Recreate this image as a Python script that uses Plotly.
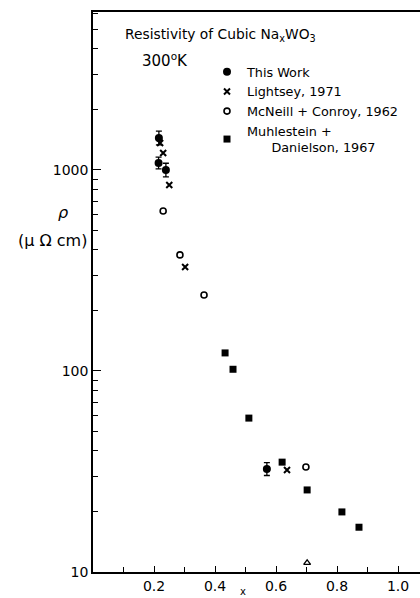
import plotly.graph_objects as go

# ---- data ----
this_work_x = [0.216, 0.215, 0.239, 0.570]
this_work_y = [1442, 1084, 1000, 32.5]
this_work_err_plus = [120, 75, 80, 2.5]
this_work_err_minus = [110, 70, 75, 2.3]

lightsey_x = [0.220, 0.230, 0.250, 0.302, 0.636]
lightsey_y = [1362, 1216, 842, 329, 32.2]

mcneill_x = [0.230, 0.285, 0.364, 0.698]
mcneill_y = [625, 378, 239, 33.3]

muhl_x = [0.433, 0.459, 0.511, 0.620, 0.702, 0.816, 0.872]
muhl_y = [123, 102, 58.3, 35.2, 25.6, 19.9, 16.7]

tri_x = [0.702]
tri_y = [11.1]

x_tickvals = [0.2, 0.4, 0.6, 0.8, 1.0]
x_ticktext = ["0.2", "0.4", "0.6", "0.8", "1.0"]
x_minor = [0.1, 0.3, 0.5, 0.7, 0.9]
y_tickvals = [10, 100, 1000]
y_ticktext = ["10", "100", "1000"]
y_minor = [m * d for d in (10, 100, 1000) for m in range(2, 10)]

FONT = "DejaVu Sans"

fig = go.Figure()
fig.add_trace(go.Scatter(
    x=this_work_x, y=this_work_y, mode="markers", name="This Work",
    marker=dict(symbol="circle", size=8, color="black"),
    error_y=dict(type="data", array=this_work_err_plus, arrayminus=this_work_err_minus,
                 color="black", thickness=1.3, width=3),
))
fig.add_trace(go.Scatter(
    x=lightsey_x, y=lightsey_y, mode="markers", name="Lightsey, 1971",
    marker=dict(symbol="x-thin", size=6, color="black", line=dict(width=2, color="black")),
))
fig.add_trace(go.Scatter(
    x=mcneill_x, y=mcneill_y, mode="markers", name="McNeill + Conroy, 1962",
    marker=dict(symbol="circle-open", size=6, color="black", line=dict(width=1.6)),
))
fig.add_trace(go.Scatter(
    x=muhl_x, y=muhl_y, mode="markers", name="Muhlestein +<br>      Danielson, 1967",
    marker=dict(symbol="square", size=7, color="black"),
))
fig.add_trace(go.Scatter(
    x=tri_x, y=tri_y, mode="markers", showlegend=False,
    marker=dict(symbol="triangle-up-open", size=6, color="black", line=dict(width=1.3)),
))

fig.update_layout(
    width=420, height=598,
    margin=dict(l=93, r=0, t=12, b=26),
    plot_bgcolor="white", paper_bgcolor="white",
    font=dict(family=FONT, size=13, color="black"),
    showlegend=True,
    legend=dict(x=(207 - 93) / 327, y=(572 - 57) / 560, xanchor="left", yanchor="top",
                bgcolor="rgba(0,0,0,0)", font=dict(size=12.8, family=FONT),
                tracegroupgap=0, itemwidth=30),
    xaxis=dict(range=[0, 1.072], tickvals=x_tickvals, ticktext=x_ticktext,
               ticks="inside", ticklen=6, tickwidth=1.3, tickcolor="black",
               showline=True, linecolor="black", linewidth=1.5, mirror=True,
               showgrid=False, zeroline=False,
               minor=dict(tickvals=x_minor, ticks="inside", ticklen=5, tickcolor="black"),
               tickfont=dict(size=14)),
    yaxis=dict(type="log", range=[1, 3.786], tickvals=y_tickvals, ticktext=y_ticktext,
               ticks="inside", ticklen=8, tickwidth=1.3, tickcolor="black",
               showline=True, linecolor="black", linewidth=1.5,
               showgrid=False, zeroline=False,
               minor=dict(tickvals=y_minor, ticks="inside", ticklen=5, tickcolor="black"),
               tickfont=dict(size=14)),
)

fig.add_annotation(xref="paper", yref="paper", x=(123 - 93) / 327, y=(572 - 35) / 560,
                   xanchor="left", yanchor="middle", showarrow=False,
                   text="Resistivity of Cubic Na<sub>x</sub>WO<sub>3</sub>",
                   font=dict(size=13.8, family=FONT))
fig.add_annotation(xref="paper", yref="paper", x=(140 - 93) / 327, y=(572 - 60) / 560,
                   xanchor="left", yanchor="middle", showarrow=False,
                   text="300<sup>o</sup>K", font=dict(size=15, family=FONT))
fig.add_annotation(xref="paper", yref="paper", x=(63 - 93) / 327, y=(572 - 213) / 560,
                   xanchor="center", yanchor="middle", showarrow=False,
                   text="<i>ρ</i>", font=dict(size=16, family=FONT))
fig.add_annotation(xref="paper", yref="paper", x=(52 - 93) / 327, y=(572 - 240) / 560,
                   xanchor="center", yanchor="middle", showarrow=False,
                   text="(μ Ω cm)", font=dict(size=16, family=FONT))
fig.add_annotation(xref="paper", yref="paper", x=(243 - 93) / 327, y=(572 - 591) / 560,
                   xanchor="center", yanchor="middle", showarrow=False,
                   text="x", font=dict(size=10, family=FONT))

fig.write_html("out.html", config={"displayModeBar": False},
               post_script="document.body.style.margin='0';document.body.style.overflow='hidden';")
